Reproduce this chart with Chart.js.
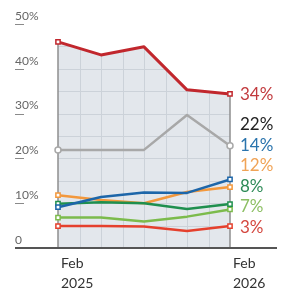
<!DOCTYPE html>
<html>
<head>
<meta charset="utf-8">
<script src="https://cdn.jsdelivr.net/npm/chart.js@4.4.1/dist/chart.umd.min.js"></script>
<style>
    html, body { margin: 0; padding: 0; background: #fff; }
</style>
</head>
<body>
<canvas id="chart" width="291" height="292"></canvas>
<script>
// Quarterly readings, Feb 2025 -> Feb 2026
const months = ['Feb 2025', 'May 2025', 'Aug 2025', 'Nov 2025', 'Feb 2026'];
const monthOffset = [0, 3, 6, 9, 12];
const xTickLabels = [['Feb', '2025'], ['Feb', '2026']];
const yTicks = [0, 10, 20, 30, 40, 50];

const darkRedValues = [46, 43.1, 44.9, 35.3, 34.4];
const greyValues = [21.9, 21.9, 21.9, 29.7, 22.8];
const blueValues = [9.1, 11.4, 12.4, 12.3, 15.3];
const orangeValues = [11.8, 10.7, 10.0, 12.5, 13.6];
const darkGreenValues = [9.9, 10.2, 10.0, 8.7, 9.8];
const lightGreenValues = [6.8, 6.8, 5.9, 7.0, 8.6];
const redValues = [4.9, 4.9, 4.8, 3.8, 4.9];

const endLabels = ['34%', '22%', '14%', '12%', '8%', '7%', '3%'];

const FONT = 'Lato';

function series(values, color, labelColor, width, marker) {
    const last = values.length - 1;
    return {
        data: values.map((v, i) => ({ x: monthOffset[i], y: v })),
        borderColor: color,
        borderWidth: width,
        borderJoinStyle: 'round',
        tension: 0,
        fill: false,
        clip: false,
        labelColor: labelColor,
        pointStyle: marker,
        pointRadius: ctx => (ctx.dataIndex === 0 || ctx.dataIndex === last) ? 3 : 0,
        pointHoverRadius: 0,
        pointBackgroundColor: '#fff',
        pointBorderColor: color,
        pointBorderWidth: 1.5
    };
}

// order = draw order from top to bottom
const datasets = [
    series(darkRedValues, '#c1272d', '#c23a3e', 3, 'rect'),
    series(blueValues, '#1d66a9', '#2a74ad', 2.5, 'rect'),
    series(darkGreenValues, '#1f8f4e', '#2e8b57', 2.5, 'rect'),
    series(redValues, '#e5402d', '#d4473f', 2.5, 'rect'),
    series(lightGreenValues, '#7cbb4c', '#8cbf63', 2.5, 'rect'),
    series(orangeValues, '#f3983c', '#f0a356', 2.5, 'rect'),
    series(greyValues, '#a8a8a8', '#222222', 2.5, 'circle')
];
const labelOrder = [0, 6, 1, 5, 2, 4, 3]; // endLabels index -> dataset index

const backdrop = {
    id: 'backdrop',
    beforeDatasetsDraw(chart) {
        const ctx = chart.ctx;
        const xs = chart.scales.x, ys = chart.scales.y;
        const pts = chart.getDatasetMeta(0).data;
        const base = ys.getPixelForValue(0);
        const first = pts[0], last = pts[pts.length - 1];

        // shaded panel under the top line, with its grid
        ctx.save();
        ctx.beginPath();
        ctx.moveTo(first.x, base);
        pts.forEach(p => ctx.lineTo(p.x, p.y));
        ctx.lineTo(last.x, base);
        ctx.closePath();
        ctx.fillStyle = '#e3e7ec';
        ctx.fill();
        ctx.clip();
        ctx.strokeStyle = '#ccd2d9';
        ctx.lineWidth = 1;
        ctx.beginPath();
        for (let m = 1.5; m < 12; m += 1.5) {
            const px = Math.round(xs.getPixelForValue(m)) + 0.5;
            ctx.moveTo(px, 0);
            ctx.lineTo(px, base);
        }
        for (let v = 5; v <= 50; v += 5) {
            const py = Math.round(ys.getPixelForValue(v)) + 0.5;
            ctx.moveTo(xs.left, py);
            ctx.lineTo(xs.right, py);
        }
        ctx.stroke();
        ctx.restore();

        ctx.save();
        // panel edges
        ctx.strokeStyle = '#8e8e8e';
        ctx.lineWidth = 1.5;
        ctx.beginPath();
        [first, last].forEach(p => {
            ctx.moveTo(p.x, p.y);
            ctx.lineTo(p.x, base);
        });
        ctx.stroke();
        // little dashes under the y labels
        ctx.strokeStyle = '#8a8a8a';
        ctx.lineWidth = 1;
        ctx.beginPath();
        yTicks.forEach(v => {
            if (v === 0) return;
            const py = Math.round(ys.getPixelForValue(v)) + 0.5;
            ctx.moveTo(ys.left, py);
            ctx.lineTo(ys.left + 9, py);
        });
        ctx.stroke();
        // baseline
        ctx.strokeStyle = '#555';
        ctx.lineWidth = 2;
        ctx.beginPath();
        ctx.moveTo(ys.left, base);
        ctx.lineTo(chart.width - 14, base);
        ctx.stroke();
        ctx.restore();
    },
    afterDatasetsDraw(chart) {
        const ctx = chart.ctx;
        const xs = chart.scales.x;
        // end labels, pushed apart from the bottom up
        const items = labelOrder.map((di, li) => {
            const pts = chart.getDatasetMeta(di).data;
            return { text: endLabels[li], color: chart.data.datasets[di].labelColor, y: pts[pts.length - 1].y };
        }).sort((a, b) => b.y - a.y);
        const gap = 20.5;
        let prev = Infinity;
        ctx.save();
        ctx.font = '17px ' + FONT;
        ctx.textAlign = 'left';
        ctx.textBaseline = 'middle';
        items.forEach(it => {
            const y = Math.min(it.y + 1, prev - gap);
            prev = y;
            ctx.fillStyle = it.color;
            ctx.fillText(it.text, xs.right + 10, y);
        });
        ctx.restore();
    }
};

new Chart(document.getElementById('chart'), {
    type: 'line',
    data: { labels: months, datasets: datasets },
    options: {
        responsive: false,
        animation: false,
        events: [],
        layout: { padding: { left: 15, right: 61, top: 24, bottom: 0 } },
        plugins: { legend: { display: false }, tooltip: { enabled: false } },
        scales: {
            x: {
                type: 'linear',
                min: 0,
                max: 12,
                grid: { display: false, drawTicks: false },
                border: { display: false },
                afterBuildTicks: s => { s.ticks = [{ value: 0 }, { value: 12 }]; },
                afterFit: s => { s.height = 44; s.paddingLeft = 0; s.paddingRight = 0; },
                ticks: {
                    autoSkip: false,
                    maxRotation: 0,
                    align: 'start',
                    labelOffset: 3,
                    padding: 5,
                    color: '#333',
                    font: { family: FONT, size: 14, lineHeight: 1.43 },
                    callback: v => v === 0 ? xTickLabels[0] : xTickLabels[1]
                }
            },
            y: {
                min: 0,
                max: 50,
                grid: { display: false, drawTicks: false },
                border: { display: false },
                afterBuildTicks: s => { s.ticks = yTicks.map(v => ({ value: v })); },
                afterFit: s => { s.width = 43; s.paddingTop = 0; s.paddingBottom = 0; },
                ticks: {
                    crossAlign: 'far',
                    labelOffset: -8,
                    color: '#666',
                    font: { family: FONT, size: 12 },
                    callback: v => v === 0 ? '0' : v + '%'
                }
            }
        }
    },
    plugins: [backdrop]
});
</script>
</body>
</html>
